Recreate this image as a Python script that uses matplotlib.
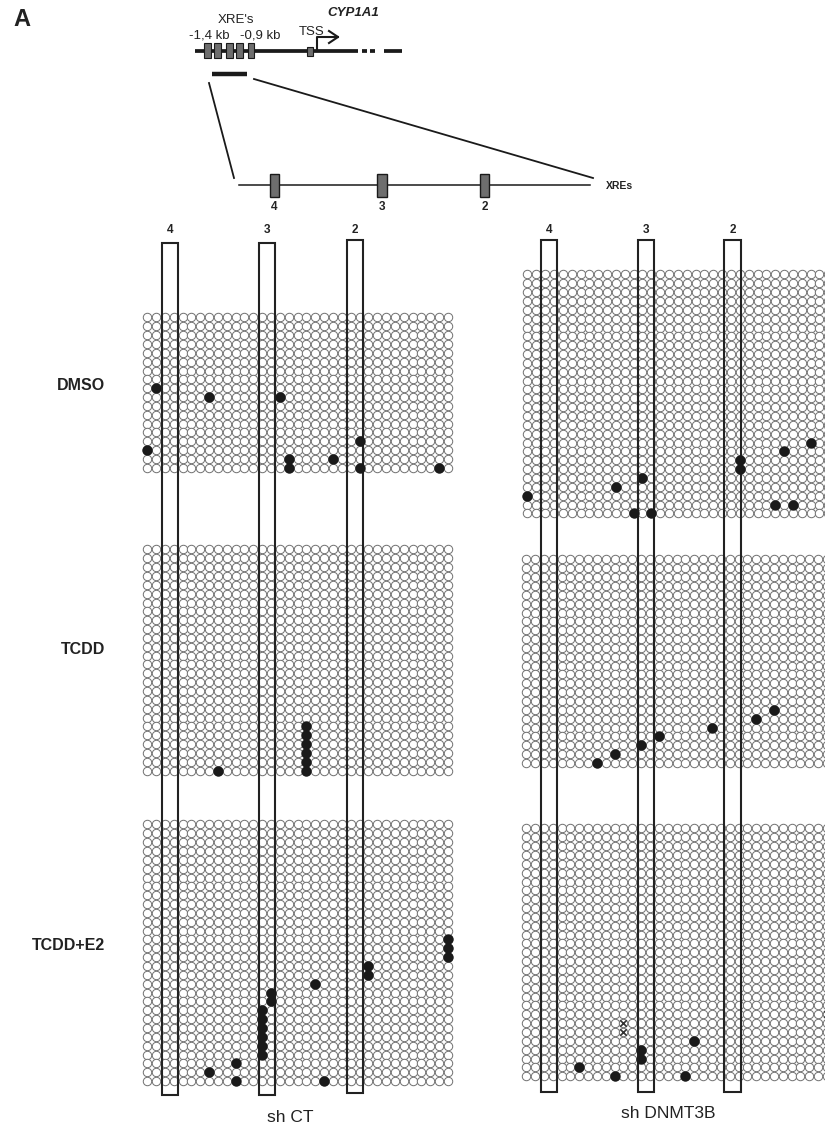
import matplotlib
matplotlib.use('Agg')
import matplotlib.pyplot as plt
from matplotlib.patches import Rectangle

plt.rcParams['font.family'] = ['Liberation Sans', 'DejaVu Sans']

# du lieu: so cot CpG, so dong (clone) moi panel, vi tri CpG bi methyl hoa (cot, dong)
n_cols = 35
conditions = ['DMSO', 'TCDD', 'TCDD+E2']
groups = ['sh CT', 'sh DNMT3B']
xre_labels = ['4', '3', '2']
n_rows_ct = [18, 26, 30]
n_rows_kd = [28, 24, 29]

meth_ct_dmso = [(1, 8), (7, 9), (15, 9), (0, 15), (24, 14), (16, 16), (16, 17),
                (21, 16), (24, 17), (33, 17)]
meth_ct_tcdd = [(8, 25), (18, 20), (18, 21), (18, 22), (18, 23), (18, 24), (18, 25)]
meth_ct_e2 = [(34, 13), (34, 14), (34, 15), (25, 16), (25, 17), (19, 18), (14, 19),
              (14, 20), (13, 21), (13, 22), (13, 23), (13, 24), (13, 25), (13, 26),
              (10, 27), (7, 28), (10, 29), (20, 29)]

meth_kd_dmso = [(0, 25), (10, 24), (13, 23), (12, 27), (14, 27), (24, 21), (24, 22),
                (29, 20), (32, 19), (28, 26), (30, 26)]
meth_kd_tcdd = [(8, 23), (10, 22), (13, 21), (15, 20), (21, 19), (26, 18), (28, 17)]
meth_kd_e2 = [(6, 27), (10, 28), (13, 25), (13, 26), (19, 24), (18, 28)]

# vi tri khong xac dinh (dau x)
undet_kd_dmso = [(34, 17)]
undet_kd_e2 = [(11, 22), (11, 23), (34, 21)]

fig = plt.figure(figsize=(8.25, 11.3), dpi=100)
ax = fig.add_axes([0, 0, 1, 1])
ax.set_xlim(0, 825)
ax.set_ylim(1130, 0)
ax.axis('off')

step = 8.85
# goc tren trai cua moi luoi (pixel)
origins_ct = [(142.7, 313), (142.7, 545), (142.7, 820)]
origins_kd = [(523, 270), (521.7, 555), (521.7, 824)]


def ve_luoi(x0, y0, nrow, filled, undet):
    xs, ys = [], []
    for r in range(nrow):
        for c in range(n_cols):
            xs.append(x0 + step / 2 + c * step)
            ys.append(y0 + step / 2 + r * step)
    ax.scatter(xs, ys, s=37, facecolor='white', edgecolor='#707070',
               linewidths=0.7, zorder=2)
    if filled:
        fx = [x0 + step / 2 + c * step for c, r in filled]
        fy = [y0 + step / 2 + r * step for c, r in filled]
        ax.scatter(fx, fy, s=56, color='#1a1a1a', zorder=5, linewidths=0)
    if undet:
        ux = [x0 + step / 2 + c * step for c, r in undet]
        uy = [y0 + step / 2 + r * step for c, r in undet]
        ax.scatter(ux, uy, s=22, marker='x', color='#333333', linewidths=1.2, zorder=5)


ct_data = [meth_ct_dmso, meth_ct_tcdd, meth_ct_e2]
kd_data = [meth_kd_dmso, meth_kd_tcdd, meth_kd_e2]
kd_undet = [undet_kd_dmso, [], undet_kd_e2]
for i in range(3):
    ve_luoi(origins_ct[i][0], origins_ct[i][1], n_rows_ct[i], ct_data[i], [])
    ve_luoi(origins_kd[i][0], origins_kd[i][1], n_rows_kd[i], kd_data[i], kd_undet[i])

# khung cot XRE
boxes_ct = [(161.7, 177.7, 242.7, 1095), (259, 275, 242.7, 1095), (347.3, 363.3, 240, 1093)]
boxes_kd = [(540.7, 557.3, 240, 1092), (637.7, 654, 240, 1092), (724.3, 741.3, 240, 1092)]
for boxes in [boxes_ct, boxes_kd]:
    for lab, (xa, xb, ya, yb) in zip(xre_labels, boxes):
        ax.add_patch(Rectangle((xa, ya), xb - xa, yb - ya, fill=False,
                               edgecolor='#222222', lw=1.5, zorder=4))
        ax.text((xa + xb) / 2, 230, lab, ha='center', va='center',
                fontsize=8.5, fontweight='bold', color='#222222')

# nhan dieu kien
label_y = [385, 650, 945]
for lab, y in zip(conditions, label_y):
    ax.text(105, y, lab, ha='right', va='center', fontsize=11.5,
            fontweight='bold', color='#222222')

ax.text(290, 1118, groups[0], ha='center', va='center', fontsize=12.5, color='#222222')
ax.text(668, 1113, groups[1], ha='center', va='center', fontsize=12.5, color='#222222')

# so do gen phia tren
ax.text(22, 20, 'A', ha='center', va='center', fontsize=17, fontweight='bold', color='#222222')
ax.plot([195, 358], [51, 51], color='#1a1a1a', lw=2.7, solid_capstyle='butt', zorder=3)
for xa, xb in [(362, 367), (370, 375), (384, 402)]:
    ax.plot([xa, xb], [51, 51], color='#1a1a1a', lw=2.7, solid_capstyle='butt')
for xc in [207.5, 217.5, 229.5, 239.5, 251]:
    ax.add_patch(Rectangle((xc - 3.2, 43), 6.4, 15, facecolor='#6e6e6e',
                           edgecolor='#1a1a1a', lw=0.8, zorder=4))
ax.add_patch(Rectangle((307, 47), 6, 9, facecolor='#6e6e6e', edgecolor='#1a1a1a',
                       lw=0.8, zorder=4))
ax.plot([317, 317, 338], [51, 37, 37], color='#1a1a1a', lw=1.5)
ax.plot([329, 338, 329], [31, 37, 43], color='#1a1a1a', lw=1.5)
ax.text(312, 32, 'TSS', ha='center', va='center', fontsize=9.5, color='#222222')
ax.text(236, 20, "XRE's", ha='center', va='center', fontsize=9.5, color='#222222')
ax.text(209, 35, '-1,4 kb', ha='center', va='center', fontsize=9.5, color='#222222')
ax.text(260, 35, '-0,9 kb', ha='center', va='center', fontsize=9.5, color='#222222')
ax.text(353, 13, 'CYP1A1', ha='center', va='center', fontsize=9.5,
        fontweight='bold', fontstyle='italic', color='#222222')

ax.plot([212, 247], [74, 74], color='#1a1a1a', lw=3.2, solid_capstyle='butt')
ax.plot([209, 234], [83, 178], color='#1a1a1a', lw=1.3)
ax.plot([254, 593], [79, 178], color='#1a1a1a', lw=1.3)

# doan phong to
ax.plot([239, 590], [185, 185], color='#1a1a1a', lw=1.1)
for lab, (xa, xb) in zip(xre_labels, [(270, 279), (377, 387), (480, 489)]):
    ax.add_patch(Rectangle((xa, 174), xb - xa, 23, facecolor='#6e6e6e',
                           edgecolor='#1a1a1a', lw=1, zorder=4))
    ax.text((xa + xb) / 2, 207, lab, ha='center', va='center', fontsize=8.5,
            fontweight='bold', color='#222222')
ax.text(606, 186, 'XREs', ha='left', va='center', fontsize=7.5, fontweight='bold',
        color='#222222')

fig.savefig('out.png', dpi=100)
